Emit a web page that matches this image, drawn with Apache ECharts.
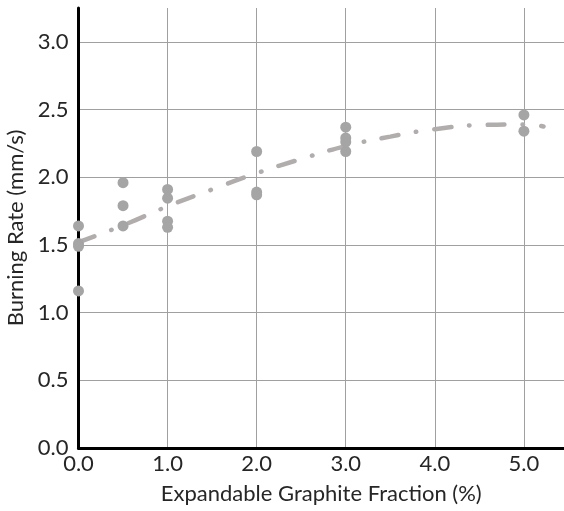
<!DOCTYPE html>
<html>
<head>
<meta charset="utf-8">
<script src="https://cdn.jsdelivr.net/npm/echarts@6/dist/echarts.min.js"></script>
<style>
html,body{margin:0;padding:0;background:#fff;}
#chart{width:564px;height:511px;}
</style>
</head>
<body>
<div id="chart"></div>
<script>
// Measured points (x = expandable graphite fraction %, y = burning rate mm/s)
const pointX = [0, 0, 0, 0, 0.5, 0.5, 0.5, 1, 1, 1, 1, 2, 2, 2, 3, 3, 3, 3, 5, 5];
const pointY = [1.64, 1.51, 1.49, 1.16, 1.96, 1.79, 1.64, 1.91, 1.845, 1.675, 1.63, 2.19, 1.89, 1.87, 2.37, 2.29, 2.26, 2.19, 2.46, 2.34];
// Trend line
const trendX = [0, 0.5, 1, 1.5, 2, 2.5, 3, 3.5, 4, 4.5, 5, 5.22];
const trendY = [1.52, 1.645, 1.785, 1.91, 2.03, 2.135, 2.23, 2.30, 2.355, 2.385, 2.39, 2.375];
const xTicks = [0, 1, 2, 3, 4, 5];
const yTicks = [0, 0.5, 1, 1.5, 2, 2.5, 3];

const chart = echarts.init(document.getElementById('chart'), null, {renderer: 'canvas'});
const font = 'Lato, "Open Sans", sans-serif';
const fs = 22;
chart.setOption({
  animation: false,
  backgroundColor: '#ffffff',
  grid: {left: 78.5, right: 0, top: 8, bottom: 63, outerBoundsMode: 'none', containLabel: false},
  xAxis: {
    type: 'value', min: 0, max: 5.45, interval: 1,
    name: 'Expandable Graphite Fraction (%)', nameLocation: 'middle', nameGap: 35,
    nameTextStyle: {fontFamily: font, fontSize: fs, color: '#262626'},
    axisLine: {show: true, lineStyle: {color: '#000', width: 3}},
    axisTick: {show: false},
    axisLabel: {fontFamily: font, fontSize: fs, color: '#262626', margin: 5, showMaxLabel: false,
      formatter: v => xTicks.includes(v) ? v.toFixed(1) : ''},
    splitLine: {show: true, showMaxLine: false, lineStyle: {color: '#a0a0a0', width: 1}}
  },
  yAxis: {
    type: 'value', min: 0, max: 3.25, interval: 0.5,
    name: 'Burning Rate (mm/s)', nameLocation: 'middle', nameGap: 45, nameRotate: 90,
    nameTextStyle: {fontFamily: font, fontSize: fs, color: '#262626', padding: [0, 0, 0, 0]},
    axisLine: {show: true, lineStyle: {color: '#000', width: 3}},
    axisTick: {show: false},
    axisLabel: {fontFamily: font, fontSize: fs, color: '#262626', margin: 10, showMaxLabel: false,
      formatter: v => yTicks.includes(v) ? v.toFixed(1) : ''},
    splitLine: {show: true, showMaxLine: false, lineStyle: {color: '#a0a0a0', width: 1}}
  },
  series: [
    {
      type: 'line', smooth: true, showSymbol: false, symbol: 'none',
      data: trendX.map((x, i) => [x, trendY[i]]),
      lineStyle: {color: '#b2adad', width: 4.5, type: [17, 18, 0.5, 18], cap: 'round'},
      z: 3
    },
    {
      type: 'scatter', symbolSize: 11,
      data: pointX.map((x, i) => [x, pointY[i]]),
      itemStyle: {color: '#a5a5a5', opacity: 1},
      z: 4
    }
  ]
});
</script>
</body>
</html>
